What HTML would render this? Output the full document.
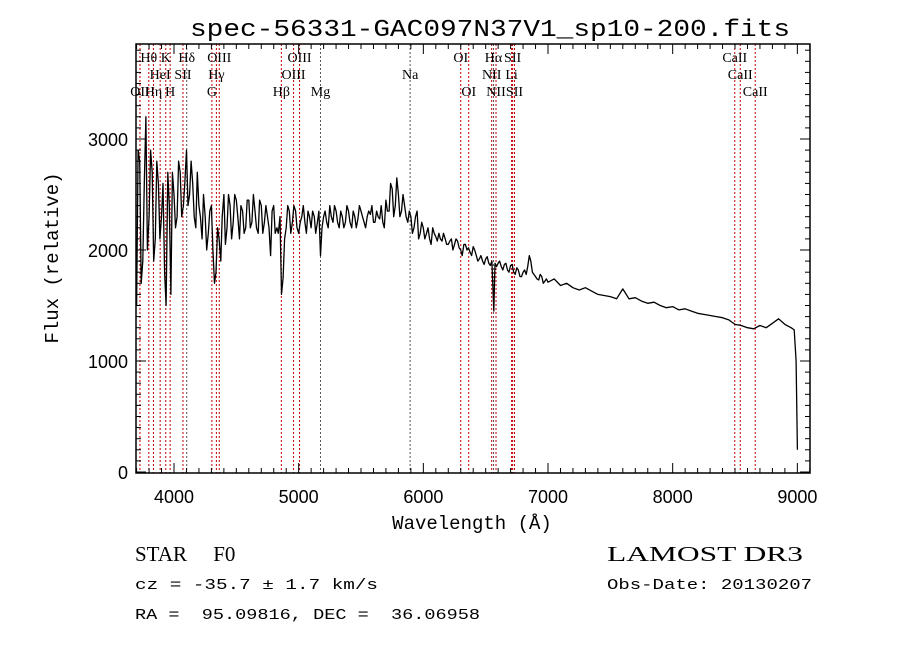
<!DOCTYPE html>
<html><head><meta charset="utf-8"><style>
html,body{margin:0;padding:0;background:#fff;}
svg{display:block;}
</style></head><body>
<svg id="chart" width="900" height="649" viewBox="0 0 900 649" xmlns="http://www.w3.org/2000/svg">
<rect width="900" height="649" fill="#fff"/>
<text x="490" y="36" text-anchor="middle" font-family="Liberation Mono, monospace" font-size="24" textLength="600" lengthAdjust="spacingAndGlyphs">spec-56331-GAC097N37V1_sp10-200.fits</text>
<g id="lines"></g>
<g id="labels"></g>
<path id="spec" fill="none" stroke="#000" stroke-width="1.3" stroke-linejoin="round"/>
<g id="axes"></g>
<text x="472" y="529" text-anchor="middle" font-family="Liberation Mono, monospace" font-size="19">Wavelength (Å)</text>
<text transform="translate(58,258) rotate(-90)" text-anchor="middle" font-family="Liberation Mono, monospace" font-size="19">Flux (relative)</text>
<text x="135" y="561" font-family="Liberation Serif, serif" font-size="21" xml:space="preserve" style="white-space:pre">STAR     F0</text>
<text x="607" y="561" font-family="Liberation Serif, serif" font-size="21" textLength="196" lengthAdjust="spacingAndGlyphs">LAMOST DR3</text>
<text x="135" y="589" font-family="Liberation Mono, monospace" font-size="15" textLength="243" lengthAdjust="spacingAndGlyphs">cz = -35.7 ± 1.7 km/s</text>
<text x="607" y="589" font-family="Liberation Mono, monospace" font-size="15" textLength="205" lengthAdjust="spacingAndGlyphs">Obs-Date: 20130207</text>
<text x="135" y="619" font-family="Liberation Mono, monospace" font-size="15" textLength="345" lengthAdjust="spacingAndGlyphs" xml:space="preserve" style="white-space:pre">RA =  95.09816, DEC =  36.06958</text>
</svg>
<script>
const wavelengths=[3700,3725,3750,3775,3800,3825,3850,3875,3900,3925,3950,3975,4000,4025,4050,4075,4100,4125,4150,4175,4200,4225,4250,4275,4300,4325,4350,4375,4400,4425,4450,4475,4500,4525,4550,4575,4600,4625,4650,4675,4700,4725,4750,4775,4800,4825,4850,4862,4875,4900,4925,4950,4975,5000,5025,5050,5075,5100,5125,5150,5175,5200,5225,5250,5275,5300,5325,5350,5375,5400,5425,5450,5475,5500,5525,5550,5575,5600,5625,5650,5675,5700,5725,5750,5775,5800,5825,5850,5875,5900,5925,5950,5975,6000,6025,6050,6075,6100,6125,6150,6175,6200,6225,6250,6275,6300,6325,6350,6375,6400,6425,6450,6475,6500,6525,6550,6565,6575,6600,6625,6650,6675,6700,6725,6750,6775,6800,6825,6850,6875,6900,6925,6950,6975,7000,7050,7100,7150,7200,7250,7300,7350,7400,7450,7500,7550,7600,7650,7700,7750,7800,7850,7900,7950,8000,8050,8100,8150,8200,8250,8300,8350,8400,8450,8500,8550,8600,8650,8700,8750,8800,8850,8900,8950,8975,8990,9000];
const flux=[1500,2800,1900,3200,2300,2700,2100,2600,2300,1800,2700,1600,2500,2300,2700,2400,2900,2500,2600,2200,2400,2100,2300,2150,2400,1700,2200,1900,2500,2200,2400,2250,2450,2100,2350,2200,2450,2250,2350,2150,2400,2250,2300,1950,2400,2200,2300,1600,1750,2200,2350,2250,2350,2150,2300,2250,2350,2200,2300,2250,1950,2300,2250,2400,2250,2350,2200,2300,2250,2350,2200,2300,2280,2350,2250,2300,2320,2250,2350,2280,2250,2450,2350,2550,2400,2500,2350,2400,2250,2300,2200,2350,2150,2200,2150,2100,2200,2120,2150,2080,2100,2050,2100,2050,2080,2000,2050,2000,1980,2030,1950,1920,1900,1920,1880,1900,1450,1880,1880,1850,1870,1820,1860,1800,1840,1760,1800,1780,1950,1800,1760,1730,1760,1720,1710,1740,1680,1700,1660,1640,1660,1630,1600,1590,1580,1560,1650,1560,1570,1540,1520,1530,1500,1480,1490,1460,1470,1450,1430,1420,1410,1400,1390,1370,1330,1320,1300,1290,1320,1300,1340,1380,1330,1300,1280,1000,200];
const wavelengthsFine=[3712,3737,3762,3787,3812,3837,3862,3887,3912,3937,3962,3987,4012,4037,4062,4087,4112,4137,4162,4187,4212,4237,4262,4287,4312,4337,4362,4387,4412,4437,4462,4487,4512,4537,4562,4587,4612,4637,4662,4687,4712,4737,4762,4787,4812,4837,4887,4912,4937,4962,4987,5012,5037,5062,5087,5112,5137,5162,5187,5212,5237,5262,5287,5312,5337,5362,5387,5412,5437,5462,5487,5512,5537,5562,5587,5612,5637,5662,5687,5712,5737,5762,5787,5812,5837,5862,5887,5912,5937,5962,5987,6012,6037,6062,6087,6112,6137,6162,6187,6212,6237,6262,6287,6312,6337,6362,6387,6412,6437,6462,6487,6512,6537,6587,6612,6637,6662,6687,6712,6737,6762,6787,6812,6837,6862,6887,6912,6937,6962,6987];
const fluxFine=[2900,1700,2600,2000,2900,1900,2800,2100,2600,1500,2400,2700,2200,2800,2300,2600,2400,2800,2300,2700,2300,2500,2000,2350,2000,1800,2100,2300,2050,2500,2100,2500,2300,2400,2150,2450,2200,2500,2200,2450,2150,2400,2200,2350,2150,2150,2100,2400,2150,2400,2200,2250,2400,2150,2300,2350,2150,2350,2200,2350,2200,2300,2400,2250,2350,2200,2400,2250,2350,2200,2400,2300,2200,2350,2400,2250,2300,2400,2200,2350,2600,2300,2650,2300,2500,2300,2350,2150,2300,2100,2250,2100,2200,2050,2150,2080,2100,2150,2050,2080,2000,2100,2020,1950,2050,2020,1950,2000,1900,1950,1870,1940,1860,1850,1900,1820,1880,1800,1870,1780,1820,1760,1820,1850,1900,1780,1740,1780,1700,1740];
const lineWl=[3727,3798,3835,3889,3934,3969,4072,4102,4304,4340,4363,4861,4959,5007,5175,5894,6300,6364,6548,6563,6583,6708,6716,6731,8498,8542,8662];
const lineNames=["OII","Hθ","Hη","HeI","K","H","SII","Hδ","G","Hγ","OIII","Hβ","OIII","OIII","Mg","Na","OI","OI","NII","Hα","NII","Li","SII","SII","CaII","CaII","CaII"];
const lineRow=[2,0,2,1,0,2,1,0,2,1,0,2,1,0,2,1,0,2,1,0,2,1,0,2,0,1,2];
const xTicks=[4000,5000,6000,7000,8000,9000];
const yTicks=[0,1000,2000,3000];
const X0=136,X1=810,Y0=44,Y1=473;
function xs(w){return 174+(w-4000)*0.12467;}
function ys(f){return 472-f*0.111;}
const NS="http://www.w3.org/2000/svg";
function mk(tag,attrs,parent){const e=document.createElementNS(NS,tag);for(const k in attrs)e.setAttribute(k,attrs[k]);parent.appendChild(e);return e;}
// spectrum: merge coarse and fine samples
const pts=[];
for(let i=0;i<wavelengths.length;i++)pts.push([wavelengths[i],flux[i]]);
for(let i=0;i<wavelengthsFine.length;i++)pts.push([wavelengthsFine[i],fluxFine[i]]);
pts.sort((a,b)=>a[0]-b[0]);
let d="";
pts.forEach((p,i)=>{d+=(i?"L":"M")+xs(p[0]).toFixed(1)+","+ys(p[1]).toFixed(1);});
document.getElementById("spec").setAttribute("d",d);
// marker lines + labels
const lg=document.getElementById("lines"),lb=document.getElementById("labels");
const rowY=[62,79,96];
for(let i=0;i<lineWl.length;i++){
  const x=xs(lineWl[i]);
  const dark=(lineNames[i]==="Na"||lineNames[i]==="Mg"||lineNames[i]==="Hδ"||lineNames[i]==="Hα");
  const l=mk("line",{x1:x,x2:x,y1:Y0,y2:Y1,stroke:dark?"#555":"#c00000","stroke-width":1,"stroke-dasharray":"2,2"},lg);
  
  
  const t=mk("text",{x:x,y:rowY[lineRow[i]],"text-anchor":"middle","font-family":"Liberation Serif, serif","font-size":14},lb);
  t.textContent=lineNames[i];
  
  
}
// axes
const ax=document.getElementById("axes");
const fr=mk("rect",{x:X0,y:Y0,width:X1-X0,height:Y1-Y0,fill:"none",stroke:"#000","stroke-width":1.5},ax);


for(let w=3700;w<=9100;w+=100){
  const x=xs(w);if(x<X0||x>X1)continue;
  const major=w%1000===0;const L=major?10:5;
  mk("line",{x1:x,x2:x,y1:Y1,y2:Y1-L,stroke:"#000"},ax);
  mk("line",{x1:x,x2:x,y1:Y0,y2:Y0+L,stroke:"#000"},ax);
}
for(let f=0;f<=3800;f+=100){
  const y=ys(f);if(y<Y0)continue;
  const major=f%1000===0;const L=major?10:5;
  mk("line",{x1:X0,x2:X0+L,y1:y,y2:y,stroke:"#000"},ax);
  mk("line",{x1:X1,x2:X1-L,y1:y,y2:y,stroke:"#000"},ax);
}
xTicks.forEach(w=>{
  const t=mk("text",{x:xs(w),y:503,"text-anchor":"middle","font-family":"Liberation Sans, sans-serif","font-size":18},ax);
  t.textContent=w;
  
  
});
yTicks.forEach(f=>{
  const t=mk("text",{x:128,y:ys(f)+7,"text-anchor":"end","font-family":"Liberation Sans, sans-serif","font-size":18},ax);
  t.textContent=f;
  
  
});
</script>
</body></html>
